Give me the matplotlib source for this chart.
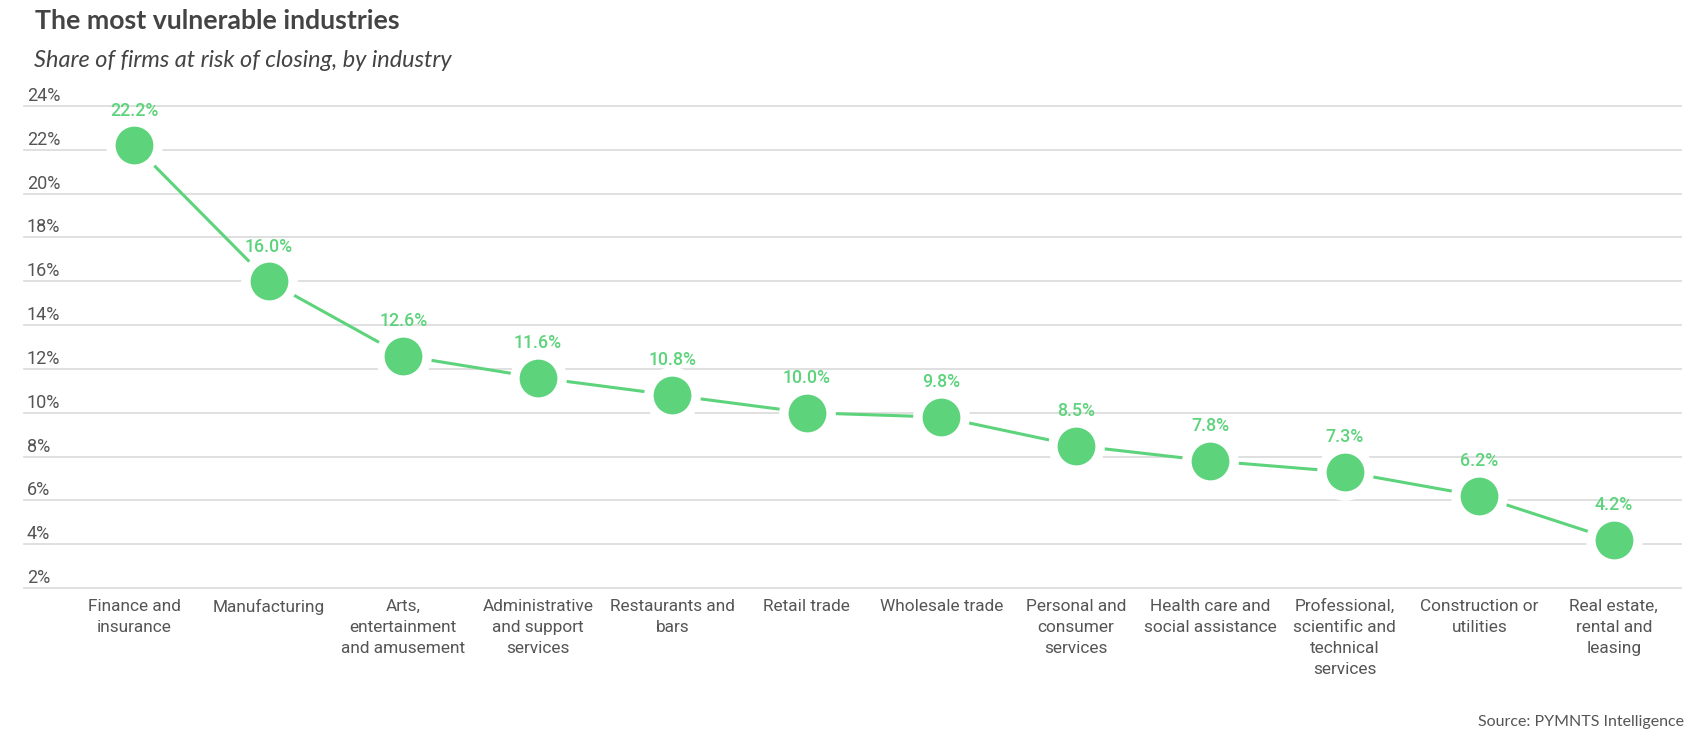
import matplotlib
matplotlib.use("Agg")
from matplotlib import pyplot as plt
from matplotlib import transforms

industries = [
    "Finance and\ninsurance",
    "Manufacturing",
    "Arts,\nentertainment\nand amusement",
    "Administrative\nand support\nservices",
    "Restaurants and\nbars",
    "Retail trade",
    "Wholesale trade",
    "Personal and\nconsumer\nservices",
    "Health care and\nsocial assistance",
    "Professional,\nscientific and\ntechnical\nservices",
    "Construction or\nutilities",
    "Real estate,\nrental and\nleasing",
]
share = [22.2, 16.0, 12.6, 11.6, 10.8, 10.0, 9.8, 8.5, 7.8, 7.3, 6.2, 4.2]
y_ticks = [2, 4, 6, 8, 10, 12, 14, 16, 18, 20, 22, 24]

green = "#5dd37c"
text_grey = "#555555"
W, H = 1708, 733

fig = plt.figure(figsize=(W / 100, H / 100), dpi=100)
# axes from x=24 to 1681 px, y from 588 (2%) to 106 (24%)
ax = fig.add_axes([24 / W, (H - 588) / H, (1681 - 24) / W, (588 - 106) / H])

x = list(range(len(share)))
ax.plot(x, share, color=green, lw=2.2, marker="o", ms=34, mfc=green,
        mec="white", mew=6.8, zorder=3, clip_on=False)

for xi, v in zip(x, share):
    ax.annotate(f"{v:.1f}%", (xi, v), xytext=(0, 25), textcoords="offset points",
                ha="center", va="center", color=green, fontsize=12.8,
                family="Roboto", weight="medium", zorder=5)

ax.set_xlim(-0.82, 11.5)
ax.set_ylim(2, 24)
ax.set_xticks(x, industries, family="Roboto", fontsize=12.4, color=text_grey,
              linespacing=1.5)
ax.tick_params(axis="x", length=0, pad=8)

ax.set_yticks(y_ticks, [f"{t}%" for t in y_ticks], family="Roboto",
              fontsize=13, color=text_grey)
ax.tick_params(axis="y", length=0, pad=-2)
shift = transforms.ScaledTranslation(0, 12 / 100, fig.dpi_scale_trans)
for lab in ax.get_yticklabels():
    lab.set_ha("left")
    lab.set_transform(lab.get_transform() + shift)

ax.grid(axis="y", color="#dddddd", lw=1.3)
ax.grid(axis="x", visible=False)
for gl in ax.get_ygridlines():
    gl.set_clip_on(False)
ax.set_axisbelow(True)
for s in ax.spines.values():
    s.set_visible(False)

fig.text(35 / W, 1 - 29 / H, "The most vulnerable industries", family="Lato",
         weight="bold", fontsize=19.2, color="#444444", va="baseline")
fig.text(34 / W, 1 - 67 / H, "Share of firms at risk of closing, by industry",
         family="Lato", style="italic", fontsize=16.9, color="#444444",
         va="baseline")
fig.text(1684 / W, 1 - 726 / H, "Source: PYMNTS Intelligence", family="Lato",
         fontsize=11.5, color=text_grey, ha="right", va="baseline")

fig.savefig("out.png", dpi=100)
